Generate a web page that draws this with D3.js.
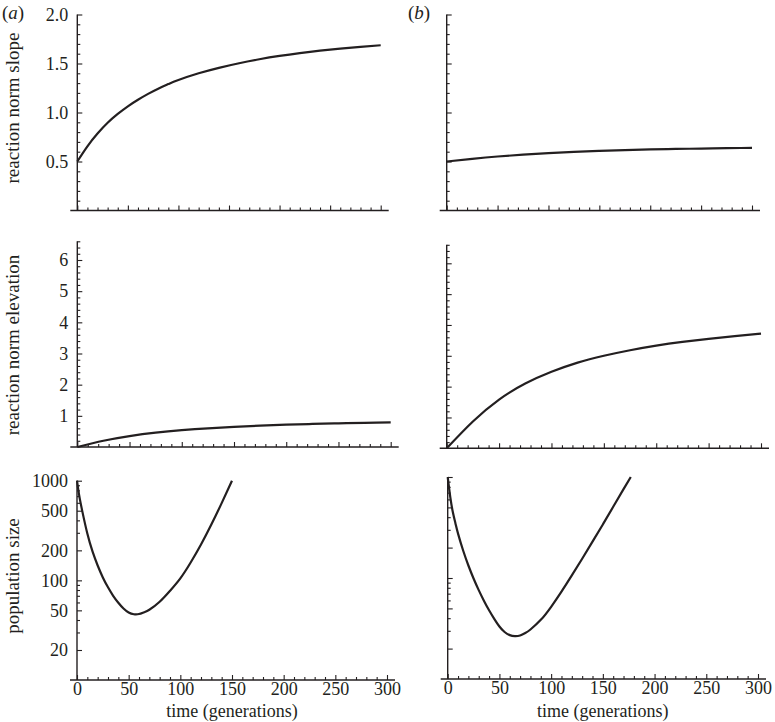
<!DOCTYPE html>
<html><head><meta charset="utf-8">
<script src="https://cdn.jsdelivr.net/npm/d3@7"></script>
<style>body{margin:0;background:#fff}svg{display:block}</style>
</head><body>
<svg id="chart" width="775" height="722"></svg>
<script>
// ---------------- data ----------------
const xMajorTicks = [0, 50, 100, 150, 200, 250, 300];
const xMinorTicks = [10, 20, 30, 40, 60, 70, 80, 90, 110, 120, 130, 140, 160, 170, 180, 190, 210, 220, 230, 240, 260, 270, 280, 290];
const slopeTicks = [0.5, 1.0, 1.5, 2.0];
const slopeMinorTicks = [0.1, 0.2, 0.3, 0.4, 0.6, 0.7, 0.8, 0.9, 1.1, 1.2, 1.3, 1.4, 1.6, 1.7, 1.8, 1.9];
const elevTicks = [1, 2, 3, 4, 5, 6];
const elevMinorTicks = [0.2, 0.4, 0.6, 0.8, 1.2, 1.4, 1.6, 1.8, 2.2, 2.4, 2.6, 2.8, 3.2, 3.4, 3.6, 3.8,
                        4.2, 4.4, 4.6, 4.8, 5.2, 5.4, 5.6, 5.8, 6.2, 6.4, 6.6];
const popTicks = [20, 50, 100, 200, 500, 1000];
const popMinorTicks = [30, 40, 60, 70, 80, 90, 300, 400, 600, 700, 800, 900];

// panel (a) reaction norm slope
const slopeA_t = [0, 10, 20, 30, 40, 50, 60, 70, 80, 90, 100, 120, 140, 160, 180, 200, 220, 240, 260, 280, 300];
const slopeA_v = [0.50, 0.655, 0.785, 0.895, 0.985, 1.063, 1.13, 1.19, 1.243, 1.29, 1.332, 1.40, 1.456, 1.503, 1.543, 1.577, 1.606, 1.631, 1.652, 1.670, 1.686];
// panel (b) reaction norm slope
const slopeB_t = [0, 25, 50, 75, 100, 125, 150, 175, 200, 225, 250, 275, 300];
const slopeB_v = [0.50, 0.527, 0.551, 0.570, 0.586, 0.599, 0.609, 0.617, 0.623, 0.628, 0.632, 0.636, 0.639];
// panel (a) reaction norm elevation
const elevA_t = [0, 25, 50, 75, 100, 125, 150, 175, 200, 225, 250, 275, 300];
const elevA_v = [0, 0.20, 0.35, 0.46, 0.54, 0.60, 0.645, 0.685, 0.715, 0.74, 0.76, 0.775, 0.79];
// panel (b) reaction norm elevation
const elevB_t = [0, 25, 50, 75, 100, 125, 150, 175, 200, 225, 250, 275, 300];
const elevB_v = [0, 0.87, 1.58, 2.10, 2.48, 2.78, 3.00, 3.18, 3.33, 3.45, 3.55, 3.64, 3.72];
// panel (a) population size
const popA_t = [0, 2, 5, 10, 15, 20, 25, 30, 35, 40, 45, 50, 55, 60, 65, 70, 80, 90, 100, 110, 120, 130, 140, 150];
const popA_v = [1000, 724, 501, 295, 195, 141, 107, 85.1, 70, 59.6, 52.2, 47.6, 45.7, 45.9, 47.9, 50.7, 61, 78.5, 104.7, 151, 229, 363, 596, 1000];
// panel (b) population size
const popB_t = [0, 2.5, 5, 7.5, 10, 15, 20, 25, 30, 35, 40, 45, 50, 55, 60, 65, 70, 75, 80, 90, 100, 110, 120, 130, 140, 150, 160, 170, 177];
const popB_v = [1000, 631, 447, 347, 275, 186, 133, 98.9, 75.9, 59.6, 47.9, 39.4, 33.1, 29.2, 27.2, 26.6, 27.0, 28.5, 30.9, 38.5, 51.9, 73.3, 106, 155, 229, 339, 507, 759, 1000];

// ---------------- drawing ----------------
const ink = "#231f20";
const font = "'Liberation Serif','Times New Roman',serif";
const fs = "18px";
const svg = d3.select("#chart");
svg.append("rect").attr("width", 775).attr("height", 722).attr("fill", "#fff");

function panel(cfg) {
  const g = svg.append("g");
  const x = d3.scaleLinear([0, 300], [cfg.x0, cfg.x1]);
  const y = cfg.log ? d3.scaleLog([10, 1000], [cfg.yb, cfg.yt])
                    : d3.scaleLinear([0, cfg.ymax], [cfg.yb, cfg.yt]);
  const yTopPix = y(cfg.axisTop);

  // axis lines
  g.append("line").attr("x1", cfg.x0 - 7).attr("x2", cfg.x1 + 8)
    .attr("y1", cfg.yb).attr("y2", cfg.yb).attr("stroke", ink).attr("stroke-width", 1.4);
  g.append("line").attr("x1", cfg.x0).attr("x2", cfg.x0)
    .attr("y1", cfg.yb).attr("y2", yTopPix).attr("stroke", ink).attr("stroke-width", 1.4);

  // x axis ticks
  const xa = g.append("g").attr("transform", `translate(0,${cfg.yb})`)
    .call(d3.axisBottom(x).tickValues(xMajorTicks).tickSize(-5).tickPadding(2)
      .tickFormat(cfg.xLabels ? d3.format("d") : ""));
  const xm = g.append("g").attr("transform", `translate(0,${cfg.yb})`)
    .call(d3.axisBottom(x).tickValues(xMinorTicks).tickSize(-3).tickFormat(""));
  // y axis ticks
  const ya = g.append("g").attr("transform", `translate(${cfg.x0},0)`)
    .call(d3.axisLeft(y).tickValues(cfg.yTicks).tickSize(-5).tickPadding(9)
      .tickFormat(cfg.yLabels ? cfg.yFmt : ""));
  const ym = g.append("g").attr("transform", `translate(${cfg.x0},0)`)
    .call(d3.axisLeft(y).tickValues(cfg.yMinor).tickSize(-3).tickFormat(""));
  [xa, xm, ya, ym].forEach(a => {
    a.select(".domain").remove();
    a.selectAll("line").attr("stroke", ink).attr("stroke-width", 1.1);
    a.selectAll("text").attr("fill", ink).style("font-family", font).style("font-size", fs);
  });

  // curve
  const pts = cfg.t.map((t, i) => [x(t), y(cfg.v[i])]);
  g.append("path").datum(pts)
    .attr("d", d3.line().curve(d3.curveNatural))
    .attr("fill", "none").attr("stroke", ink).attr("stroke-width", 2.2)
    .attr("stroke-linejoin", "round");

  if (cfg.xTitle) {
    g.append("text").attr("x", (cfg.x0 + cfg.x1) / 2).attr("y", 717)
      .attr("text-anchor", "middle").attr("fill", ink)
      .style("font-family", font).style("font-size", fs).text("time (generations)");
  }
}

const fmt1 = d3.format(".1f");
const fmt0 = d3.format("d");

panel({x0: 77.3, x1: 380.7, yb: 210.5, yt: 14.5, ymax: 2, axisTop: 2.0,
  yTicks: slopeTicks, yMinor: slopeMinorTicks, yLabels: true, yFmt: fmt1,
  t: slopeA_t, v: slopeA_v});
panel({x0: 446.7, x1: 752, yb: 210.5, yt: 14.5, ymax: 2, axisTop: 2.0,
  yTicks: slopeTicks, yMinor: slopeMinorTicks, yLabels: false,
  t: slopeB_t, v: slopeB_v});
panel({x0: 77.3, x1: 390.7, yb: 447, yt: 260, ymax: 6, axisTop: 6.6,
  yTicks: elevTicks, yMinor: elevMinorTicks, yLabels: true, yFmt: fmt0,
  t: elevA_t, v: elevA_v});
panel({x0: 446.7, x1: 761, yb: 448.3, yt: 263.3, ymax: 6, axisTop: 6.6,
  yTicks: elevTicks, yMinor: elevMinorTicks, yLabels: false,
  t: elevB_t, v: elevB_v});
panel({x0: 77, x1: 387, yb: 680, yt: 480.7, log: true, axisTop: 1000,
  yTicks: popTicks, yMinor: popMinorTicks, yLabels: true, yFmt: fmt0,
  xLabels: true, xTitle: true, t: popA_t, v: popA_v});
panel({x0: 447.7, x1: 758, yb: 679, yt: 477, log: true, axisTop: 1000,
  yTicks: popTicks, yMinor: popMinorTicks, yLabels: false,
  xLabels: true, xTitle: true, t: popB_t, v: popB_v});

// y-axis titles
const yTitles = [["reaction norm slope", 108], ["reaction norm elevation", 345], ["population size", 576]];
yTitles.forEach(([txt, cy]) => {
  svg.append("text").attr("transform", `translate(19,${cy}) rotate(-90)`)
    .attr("text-anchor", "middle").attr("fill", ink)
    .style("font-family", font).style("font-size", "19px").text(txt);
});

// panel labels
[["a", 2], ["b", 408]].forEach(([l, px]) => {
  const t = svg.append("text").attr("x", px).attr("y", 19).attr("fill", ink)
    .style("font-family", font).style("font-size", "19px");
  t.append("tspan").text("(");
  t.append("tspan").style("font-style", "italic").text(l);
  t.append("tspan").text(")");
});
</script>
</body></html>
